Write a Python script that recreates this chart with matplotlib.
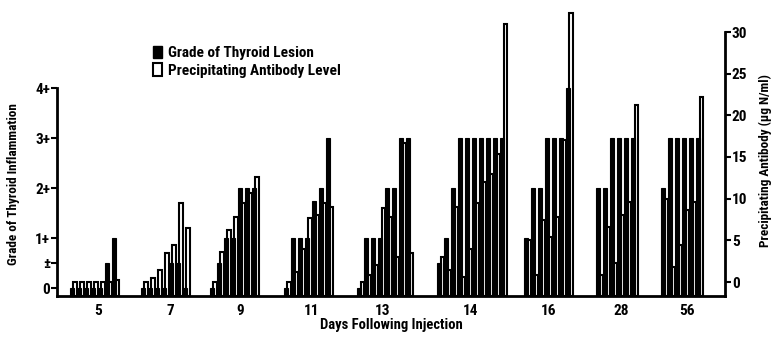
import numpy as np
import matplotlib
matplotlib.use('Agg')
import matplotlib.pyplot as plt
from matplotlib.patches import Patch
from matplotlib import font_manager

# pick a narrow bold face if one is installed
installed = {f.name for f in font_manager.fontManager.ttflist}
narrow = [f for f in ['Liberation Sans Narrow', 'DejaVu Sans Condensed', 'Roboto Condensed',
                      'Open Sans Condensed', 'Roboto'] if f in installed]
plt.rcParams['font.family'] = narrow[:1] + ['DejaVu Sans']
plt.rcParams['font.weight'] = 'bold'
plt.rcParams['font.stretch'] = 'condensed'

# days after injection (one group of animals per day)
days = ['5', '7', '9', '11', '13', '14', '16', '28', '56']

# grade of thyroid lesion per animal (0, +-=0.5, 1+ .. 4+)
grade = [
    [0, 0, 0, 0, 0, 0.5, 1],
    [0, 0, 0, 0, 0.5, 0.5, 0],
    [0, 0.5, 1, 1, 2, 2, 2],
    [0, 1, 1, 1, 1.75, 2, 3],
    [0, 1, 1, 1, 2, 2, 3, 3],
    [0.5, 1, 2, 3, 3, 3, 3, 3, 3, 3],
    [1, 2, 2, 3, 3, 3, 4],
    [2, 2, 3, 3, 3, 3],
    [2, 3, 3, 3, 3, 3],
]

# precipitating antibody per animal (ug N/ml)
antibody = [
    [0, 0, 0, 0, 0, 0, 0.3],
    [0, 0.5, 1.5, 3.5, 4.5, 9.5, 6.5],
    [0, 3.6, 6.2, 7.8, 9.5, 10.7, 12.6],
    [0, 1.2, 4, 7.7, 8, 9.5, 9],
    [0, 0.8, 2, 8.9, 7.8, 3, 16.7, 3.5],
    [3, 1.5, 9, 0.6, 4, 9.5, 12, 13, 15.4, 31],
    [5, 0.8, 7.4, 5.4, 7.8, 17, 32.3],
    [0.8, 6.6, 2.3, 8, 9.6, 21.2],
    [10, 1.8, 4.5, 8.7, 9.6, 22.2],
]

grade_ticks = [0, 0.5, 1, 2, 3, 4]
grade_labels = ['0', '\u00b1', '1+', '2+', '3+', '4+']
ab_ticks = [0, 5, 10, 15, 20, 25, 30]

# layout (x in pixel-like units of the plot width)
label_pos = [98, 170, 240, 312, 383, 470, 549, 621, 687]
group_mid = [94, 165, 234, 308, 385, 472, 548, 617, 682]
pitch = 7.0
g_lo, g_hi = -0.16, 5.16
a_lo, a_hi = -1.68, 30.24

fig = plt.figure(figsize=(7.74, 3.37), dpi=100)
ax = fig.add_axes([57 / 774, 41 / 337, 668 / 774, 266 / 337])
ax2 = ax.twinx()

for mid, g, a in zip(group_mid, grade, antibody):
    n = len(g)
    x0 = mid - n * pitch / 2
    xs = x0 + np.arange(n) * pitch
    ax.bar(xs + 0.5 * pitch, np.array(a) - a_lo, bottom=a_lo, width=0.55 * pitch,
           align='edge', color='white', edgecolor='black', linewidth=1.5, clip_on=False)
    ax2.bar(xs, np.array(g) - g_lo, bottom=g_lo, width=0.62 * pitch,
            align='edge', color='black', edgecolor='black', linewidth=0.8)

ax.set_xlim(57, 725)
ax.set_ylim(a_lo, a_hi)
ax2.set_ylim(g_lo, g_hi)

# antibody scale on the right, grade scale on the left
ax.yaxis.tick_right()
ax.yaxis.set_label_position('right')
ax2.yaxis.tick_left()
ax2.yaxis.set_label_position('left')

ax.set_yticks(ab_ticks)
ax.set_yticklabels([str(t) for t in ab_ticks])
ax2.set_yticks(grade_ticks)
ax2.set_yticklabels(grade_labels)

ax.set_xticks(label_pos)
ax.set_xticklabels(days)
ax.tick_params(axis='x', length=0, pad=6, labelsize=11)
ax.tick_params(axis='y', length=4, width=1.5, labelsize=11, pad=1)
ax2.tick_params(axis='y', length=4, width=1.5, labelsize=11, pad=1)

for s in ['top', 'left']:
    ax.spines[s].set_visible(False)
for s in ['top', 'right', 'bottom']:
    ax2.spines[s].set_visible(False)
ax.spines['right'].set_bounds(a_lo, 30)
ax.spines['right'].set_linewidth(2)
ax.spines['bottom'].set_linewidth(2)
ax2.spines['left'].set_bounds(g_lo, 4)
ax2.spines['left'].set_linewidth(2)

ax.set_xlabel('Days Following Injection', fontsize=10.5, fontweight='bold', labelpad=0)
ax2.set_ylabel('Grade of Thyroid Inflammation', fontsize=9.5, fontweight='bold')
ax2.yaxis.set_label_coords(-0.055, 0.42)
ax.set_ylabel('Precipitating Antibody (\u03bcg N/ml)', fontsize=9.5, fontweight='bold')
ax.yaxis.set_label_coords(1.05, 0.51)

handles = [Patch(facecolor='black', edgecolor='black'),
           Patch(facecolor='white', edgecolor='black', linewidth=1.5)]
fig.legend(handles, ['Grade of Thyroid Lesion', 'Precipitating Antibody Level'],
           loc='upper left', bbox_to_anchor=(145 / 774, 1 - 38 / 337), frameon=False,
           handlelength=0.6, handleheight=0.9, handletextpad=0.4, labelspacing=0.2,
           borderpad=0, prop={'size': 11, 'weight': 'bold'})

fig.savefig('out.png', dpi=100, facecolor='white')
